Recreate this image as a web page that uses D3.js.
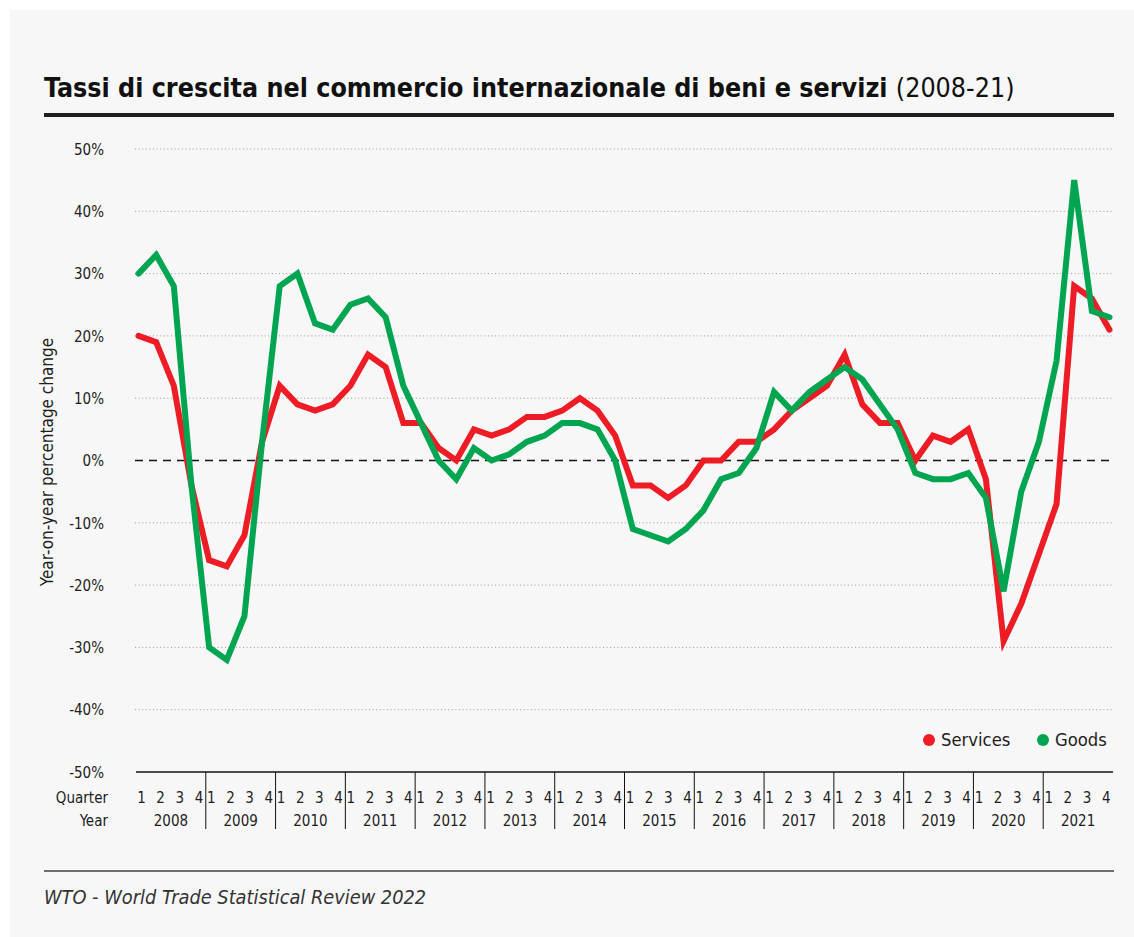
<!DOCTYPE html>
<html>
<head>
<meta charset="utf-8">
<script src="https://cdn.jsdelivr.net/npm/d3@7"></script>
<style>
  html, body { margin: 0; padding: 0; background: #ffffff; }
  svg { display: block; }
  text { font-family: "Liberation Sans Narrow", "DejaVu Sans Condensed", "Roboto", sans-serif; fill: #1e1e1e; }
</style>
</head>
<body>
<svg id="chart" width="1134" height="937"></svg>
<script>
// Year-on-year growth of world trade in goods and services, quarterly 2008–2021
const years = ["2008", "2009", "2010", "2011", "2012", "2013", "2014",
               "2015", "2016", "2017", "2018", "2019", "2020", "2021"];
const quarters = ["1", "2", "3", "4"];

const services = [
  20, 19, 12, -4,
  -16, -17, -12, 3,
  12, 9, 8, 9,
  12, 17, 15, 6,
  6, 2, 0, 5,
  4, 5, 7, 7,
  8, 10, 8, 4,
  -4, -4, -6, -4,
  0, 0, 3, 3,
  5, 8, 10, 12,
  17, 9, 6, 6,
  0, 4, 3, 5,
  -3, -29, -23, -15,
  -7, 28, 26, 21
];

const goods = [
  30, 33, 28, -4,
  -30, -32, -25, 3,
  28, 30, 22, 21,
  25, 26, 23, 12,
  6, 0, -3, 2,
  0, 1, 3, 4,
  6, 6, 5, 0,
  -11, -12, -13, -11,
  -8, -3, -2, 2,
  11, 8, 11, 13,
  15, 13, 9, 5,
  -2, -3, -3, -2,
  -6, -21, -5, 3,
  16, 45, 24, 23
];

const yTicks = [50, 40, 30, 20, 10, 0, -10, -20, -30, -40, -50];
const seriesNames = ["Services", "Goods"];
const seriesColors = ["#ee1c25", "#00a551"];

const periods = years.flatMap(y => quarters.map(q => y + "-" + q));

const svg = d3.select("#chart");

// panel background
svg.append("rect")
  .attr("x", 10).attr("y", 10)
  .attr("width", 1124).attr("height", 927)
  .attr("fill", "#f7f7f7");

// title
const title = svg.append("text")
  .attr("x", 44).attr("y", 97)
  .style("font-size", "26.6px")
  .style("font-weight", "700")
  .style("fill", "#111");
title.append("tspan").text("Tassi di crescita nel commercio internazionale di beni e servizi ");
title.append("tspan").style("font-weight", "400").text("(2008-21)");

svg.append("rect")
  .attr("x", 44).attr("y", 113)
  .attr("width", 1070).attr("height", 4)
  .attr("fill", "#1f1f1f");

// scales
const x = d3.scalePoint().domain(periods).range([138.5, 1109.5]);
const y = d3.scaleLinear().domain([-50, 50]).range([772, 149]);
const plotLeft = 135, plotRight = 1113;

// grid
const grid = svg.append("g");
grid.selectAll("line.grid")
  .data(yTicks.filter(t => t !== 0 && t !== -50))
  .join("line")
  .attr("class", "grid")
  .attr("x1", plotLeft).attr("x2", plotRight)
  .attr("y1", d => y(d)).attr("y2", d => y(d))
  .attr("stroke", "#9a9a9a")
  .attr("stroke-width", 1)
  .attr("stroke-dasharray", "1,2.6");

// zero line
svg.append("line")
  .attr("x1", plotLeft).attr("x2", plotRight)
  .attr("y1", y(0)).attr("y2", y(0))
  .attr("stroke", "#111")
  .attr("stroke-width", 1.3)
  .attr("stroke-dasharray", "8,6");

// y axis labels
const yAxis = d3.axisLeft(y).tickValues(yTicks).tickFormat(d => d + "%").tickSize(0).tickPadding(0);
const yg = svg.append("g").attr("transform", "translate(104,0)").call(yAxis);
yg.select(".domain").remove();
yg.selectAll("text")
  .attr("dy", "0.35em")
  .style("font-size", "15px")
  .style("font-family", "\"Liberation Sans Narrow\", \"DejaVu Sans Condensed\", Roboto, sans-serif")
  .style("fill", "#1e1e1e");

// y axis title
svg.append("text")
  .attr("transform", "translate(53,462) rotate(-90)")
  .attr("text-anchor", "middle")
  .style("font-size", "17px")
  .text("Year-on-year percentage change");

// category axis: quarters nested within years
const yearBand = d3.scaleBand().domain(years).range([136, 1113]);
const qPos = d3.scalePoint().domain(quarters).range([5.5, 63]);
const axisY = y(-50);

svg.append("line")
  .attr("x1", 136).attr("x2", plotRight)
  .attr("y1", axisY).attr("y2", axisY)
  .attr("stroke", "#111").attr("stroke-width", 1.3);

const yearG = svg.append("g").selectAll("g")
  .data(years)
  .join("g")
  .attr("transform", d => `translate(${yearBand(d)},0)`);

yearG.filter((d, i) => i > 0).append("line")
  .attr("x1", 0).attr("x2", 0)
  .attr("y1", axisY).attr("y2", 829)
  .attr("stroke", "#111").attr("stroke-width", 1);

yearG.selectAll("text.q")
  .data(quarters)
  .join("text")
  .attr("class", "q")
  .attr("x", d => qPos(d))
  .attr("y", 803)
  .attr("text-anchor", "middle")
  .style("font-size", "15px")
  .text(d => d);

yearG.append("text")
  .attr("x", yearBand.bandwidth() / 2)
  .attr("y", 826)
  .attr("text-anchor", "middle")
  .style("font-size", "15px")
  .text(d => d);

svg.append("text").attr("x", 108).attr("y", 803).attr("text-anchor", "end")
  .style("font-size", "15px").text("Quarter");
svg.append("text").attr("x", 108).attr("y", 826).attr("text-anchor", "end")
  .style("font-size", "15px").text("Year");

// series lines
const line = d3.line()
  .x((d, i) => x(periods[i]))
  .y(d => y(d))
  .curve(d3.curveLinear);

[services, goods].forEach((vals, k) => {
  svg.append("path")
    .datum(vals)
    .attr("fill", "none")
    .attr("stroke", seriesColors[k])
    .attr("stroke-width", 6)
    .attr("stroke-linejoin", "miter")
    .attr("stroke-linecap", "round")
    .attr("d", line);
});

// legend
const legendX = [929, 1043];
const legend = svg.append("g").selectAll("g")
  .data(seriesNames)
  .join("g")
  .attr("transform", (d, i) => `translate(${legendX[i]},740)`);
legend.append("circle").attr("r", 6).attr("fill", (d, i) => seriesColors[i]);
legend.append("text")
  .attr("x", 12).attr("dy", "0.35em")
  .style("font-size", "18.3px")
  .text(d => d);

// footer
svg.append("rect")
  .attr("x", 44).attr("y", 870)
  .attr("width", 1070).attr("height", 2)
  .attr("fill", "#6e6e6e");

svg.append("text")
  .attr("x", 44).attr("y", 904)
  .style("font-size", "19.8px")
  .style("font-style", "italic")
  .style("fill", "#333")
  .text("WTO - World Trade Statistical Review 2022");
</script>
</body>
</html>
